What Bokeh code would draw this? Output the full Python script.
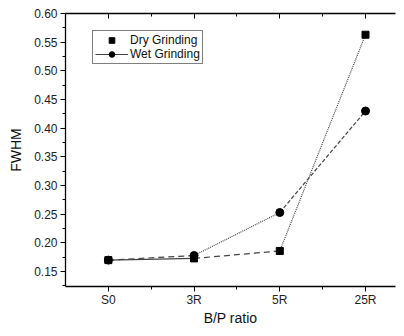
from bokeh.plotting import figure
from bokeh.models import (Range1d, FixedTicker, NumeralTickFormatter, LinearAxis,
                          Legend, LegendItem, CustomJSTickFormatter)
from bokeh.embed import file_html
from bokeh.resources import INLINE

categories = ["S0", "3R", "5R", "25R"]
dry_grinding = [0.170, 0.173, 0.186, 0.563]
wet_grinding = [0.170, 0.178, 0.253, 0.430]
y_ticks = [0.15, 0.20, 0.25, 0.30, 0.35, 0.40, 0.45, 0.50, 0.55, 0.60]

# dash style of each connecting segment, as seen in the reference
dry_segment_dash = ["solid", "6 4", "1 1"]
wet_segment_dash = ["6 4", "1 1", "4 2"]

FONT = "Liberation Sans"
x_pos = list(range(len(categories)))

p = figure(width=396, height=328, output_backend="svg", toolbar_location=None,
           x_range=Range1d(-0.5, 3.35), y_range=Range1d(0.124, 0.60),
           min_border_left=65, min_border_right=1, min_border_top=13,
           min_border_bottom=36)
p.outline_line_color = None
p.xgrid.visible = False
p.ygrid.visible = False
p.background_fill_color = "white"
p.border_fill_color = "white"

xt = FixedTicker(ticks=x_pos, minor_ticks=[i + 0.5 for i in x_pos[:-1]])
yt = FixedTicker(ticks=y_ticks, minor_ticks=[t + 0.025 for t in y_ticks[:-1]] + [0.125])

xa = p.xaxis[0]
xa.ticker = xt
xa.major_label_overrides = {i: c for i, c in zip(x_pos, categories)}
xa.axis_label = "B/P ratio"
ya = p.yaxis[0]
ya.ticker = yt
ya.formatter = NumeralTickFormatter(format="0.00")
ya.axis_label = "FWHM"

for ax in (xa, ya):
    ax.axis_line_color = "black"
    ax.axis_line_width = 1.3
    ax.major_tick_line_color = "black"
    ax.minor_tick_line_color = "black"
    ax.major_tick_out = 5
    ax.major_tick_in = 0
    ax.minor_tick_out = 3
    ax.minor_tick_in = 0
    ax.major_label_text_font = FONT
    ax.major_label_text_font_size = "12px"
    ax.major_label_text_color = "#222222"
    ax.axis_label_text_font = FONT
    ax.axis_label_text_font_size = "14px"
    ax.axis_label_text_font_style = "normal"
    ax.axis_label_text_color = "#111111"
ya.major_label_standoff = 3
ya.axis_label_standoff = 7
xa.major_label_standoff = 1
xa.axis_label_standoff = 0

# top mirror axis (ticks inward, no labels)
top = LinearAxis(ticker=xt, formatter=CustomJSTickFormatter(code="return ''"),
                 major_tick_in=5, major_tick_out=0, minor_tick_in=3, minor_tick_out=0,
                 axis_line_color="black", axis_line_width=1.3,
                 major_label_standoff=0)
p.add_layout(top, "above")

# connecting segments
dry_lines = []
for i in range(len(categories) - 1):
    dry_lines.append(p.line([x_pos[i], x_pos[i + 1]], [dry_grinding[i], dry_grinding[i + 1]],
                            line_color="#444444", line_width=1.2, line_dash=dry_segment_dash[i]))
    p.line([x_pos[i], x_pos[i + 1]], [wet_grinding[i], wet_grinding[i + 1]],
           line_color="#444444", line_width=1.2, line_dash=wet_segment_dash[i])

dry_r = p.scatter(x_pos, dry_grinding, marker="square", size=7, color="black")
wet_r = p.scatter(x_pos, wet_grinding, marker="circle", size=8, color="black")

legend = Legend(items=[LegendItem(label="Dry Grinding", renderers=[dry_r]),
                       LegendItem(label="Wet Grinding", renderers=[dry_lines[0], wet_r])],
                location=(27, 222))
legend.border_line_color = "black"
legend.border_line_width = 1
legend.padding = 2
legend.spacing = 0
legend.margin = 0
legend.glyph_width = 33
legend.glyph_height = 14
legend.label_height = 14
legend.label_standoff = 2
legend.label_text_font = FONT
legend.label_text_font_size = "12px"
legend.label_text_color = "#111111"
legend.background_fill_alpha = 1
p.add_layout(legend, "center")

open("out.html", "w").write(file_html(p, INLINE))
